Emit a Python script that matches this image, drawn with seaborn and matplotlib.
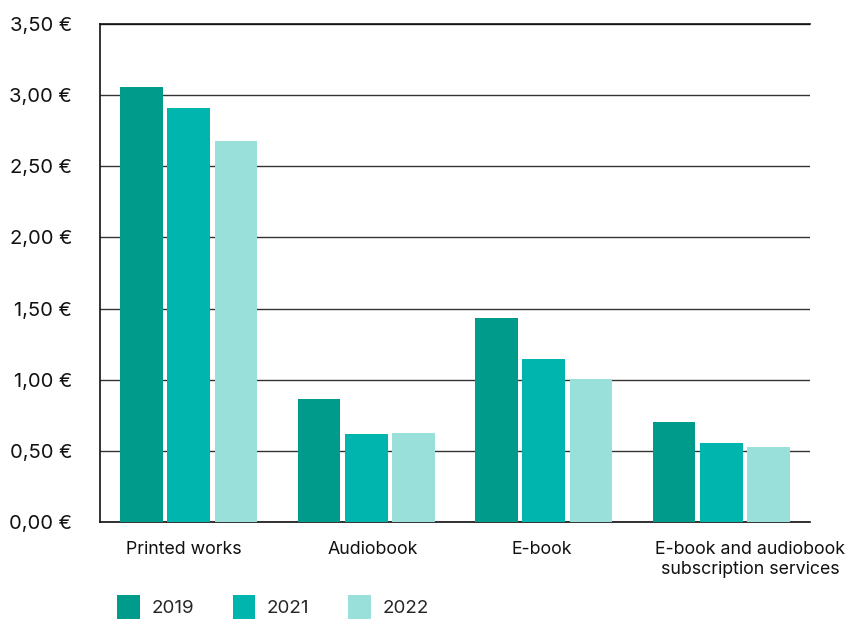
import matplotlib
matplotlib.use("Agg")
import matplotlib.pyplot as plt
import matplotlib.transforms as mtransforms
import seaborn as sns
import pandas as pd
from matplotlib.patches import Patch
from matplotlib.ticker import FixedLocator

categories = ["Printed works", "Audiobook", "E-book",
              "E-book and audiobook\nsubscription services"]
years = ["2019", "2021", "2022"]
v2019 = [3.06, 0.865, 1.435, 0.705]
v2021 = [2.91, 0.62, 1.145, 0.555]
v2022 = [2.68, 0.625, 1.005, 0.53]
ytick_vals = [0.0, 0.5, 1.0, 1.5, 2.0, 2.5, 3.0, 3.5]
ytick_labels = ["0,00 €", "0,50 €", "1,00 €", "1,50 €", "2,00 €", "2,50 €", "3,00 €", "3,50 €"]
colors = ["#009B8A", "#00B5AD", "#99E0DB"]

rows = []
for y, vals in zip(years, [v2019, v2021, v2022]):
    for c, v in zip(categories, vals):
        rows.append({"category": c, "year": y, "value": v})
df = pd.DataFrame(rows)

sns.set_theme(style="white")
plt.rcParams["font.family"] = ["Inter", "DejaVu Sans"]

fig = plt.figure(figsize=(8.49, 6.19), dpi=100)
ax = fig.add_axes([100/849, 1-522/619, 710/849, 498/619])

sns.barplot(data=df, x="category", y="value", hue="year", order=categories,
            hue_order=years, palette=colors, width=0.8, gap=0.1,
            saturation=1, ax=ax, legend=False, zorder=3,
            linewidth=0, edgecolor="none")

ax.set_xlim(-0.5, 3.5)
ax.set_ylim(0, 3.5)
ax.set_yticks(ytick_vals)
ax.set_yticklabels(ytick_labels, fontsize=14.5, color="#111")
ax.tick_params(axis="y", length=0, pad=20)
ax.yaxis.grid(True, color="#333", linewidth=1.0, zorder=0)
ax.set_axisbelow(True)
ax.tick_params(axis="x", which="major", length=0, pad=14, labelsize=12.8, labelcolor="#111")
ax.xaxis.set_minor_locator(FixedLocator([-0.5, 0.5, 1.5, 2.5, 3.5]))
ax.tick_params(axis="x", which="minor", direction="in", length=7, width=1.2, color="#111")
xlabels = ax.get_xticklabels()
for lbl in xlabels:
    lbl.set_horizontalalignment("center")
    lbl.set_multialignment("center")
# slight horizontal offsets as in reference
offsets_px = [-5, 6, -2, 29]
for lbl, dx in zip(xlabels, offsets_px):
    lbl.set_transform(lbl.get_transform() + mtransforms.ScaledTranslation(dx/100, 0, fig.dpi_scale_trans))
ax.set_xlabel("")
ax.set_ylabel("")

for s in ["left", "bottom", "top"]:
    ax.spines[s].set_visible(True)
    ax.spines[s].set_color("#111")
    ax.spines[s].set_linewidth(1.2)
ax.spines["right"].set_visible(False)

handles = [Patch(facecolor=c, edgecolor="none", label=y) for c, y in zip(colors, years)]
fig.legend(handles=handles, loc="upper left", bbox_to_anchor=(117/849, 1-595/619),
           ncol=3, frameon=False, fontsize=13.5, handlelength=1.22, handleheight=1.65,
           handletextpad=0.62, columnspacing=2.05, borderaxespad=0, borderpad=0)

fig.savefig("out.png", dpi=100)
